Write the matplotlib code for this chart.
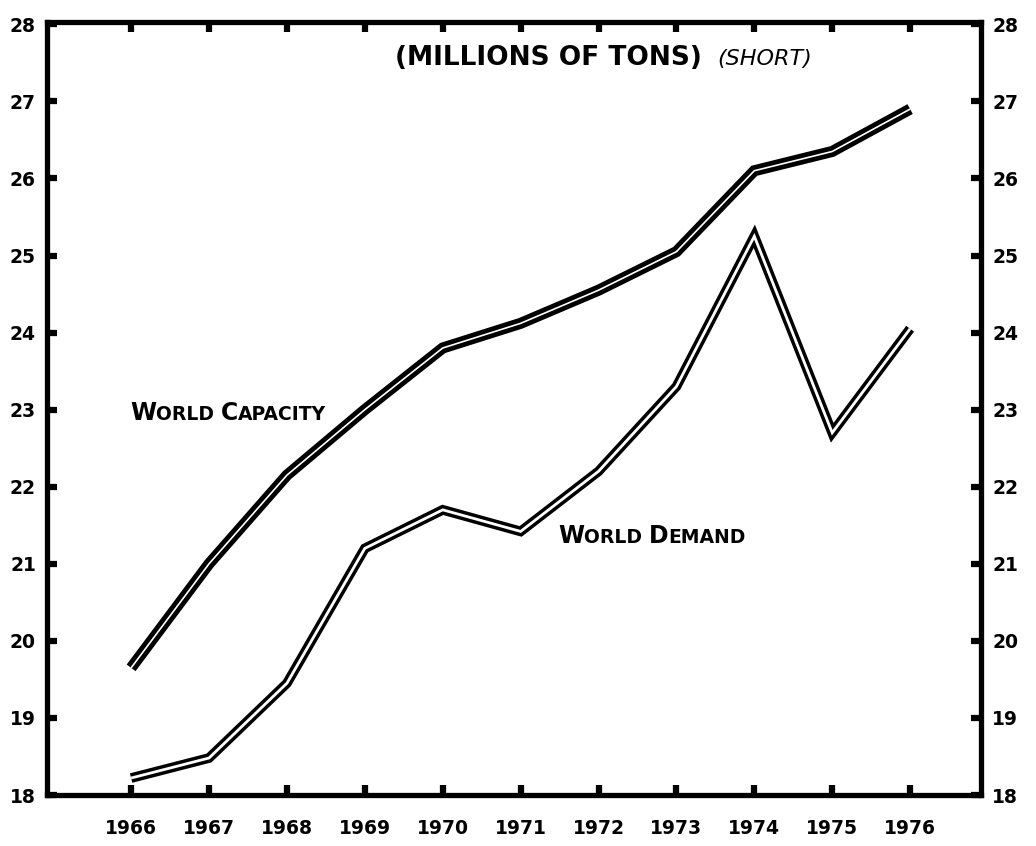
import matplotlib
matplotlib.use("Agg")
import matplotlib.pyplot as plt
from matplotlib.offsetbox import TextArea, HPacker, AnnotationBbox

# ---- data ----
years = [1966, 1967, 1968, 1969, 1970, 1971, 1972, 1973, 1974, 1975, 1976]
capacity = [19.65, 21.0, 22.15, 23.0, 23.8, 24.12, 24.55, 25.05, 26.1, 26.35, 26.9]
demand = [18.22, 18.48, 19.45, 21.2, 21.7, 21.42, 22.2, 23.3, 25.25, 22.7, 24.05]
y_ticks = [18, 19, 20, 21, 22, 23, 24, 25, 26, 27, 28]
y_tick_labels = ["18", "19", "20", "21", "22", "23", "24", "25", "26", "27", "28"]
x_tick_labels = [str(y) for y in years]

W, H = 1036, 846
fig = plt.figure(figsize=(W / 100, H / 100), dpi=100)
fig.patch.set_facecolor("white")

left_px, right_px, top_px, bottom_px = 47, 981, 22, 795
ax = fig.add_axes([left_px / W, 1 - bottom_px / H,
                   (right_px - left_px) / W, (bottom_px - top_px) / H])
ax.set_xlim(1964.92, 1976.91)
ax.set_ylim(18.0, 28.03)

# double (outline) lines
def outline(x, y, outer, inner):
    ax.plot(x, y, color="black", lw=outer, solid_joinstyle="miter",
            solid_capstyle="butt", zorder=3)
    ax.plot(x, y, color="white", lw=inner, solid_joinstyle="miter",
            solid_capstyle="butt", zorder=4)

outline(years, capacity, 8.0, 1.2)
outline(years, demand, 7.0, 2.0)

# frame
for s in ax.spines.values():
    s.set_linewidth(3.8)
    s.set_color("black")

lab_font = dict(family="DejaVu Sans", weight="bold", size=13.5)
ax.set_xticks(years)
ax.set_xticklabels(x_tick_labels, **lab_font)
ax.set_yticks(y_ticks)
ax.set_yticklabels(y_tick_labels, **lab_font)
ax.tick_params(axis="both", which="major", direction="in", length=7, width=4.5,
               color="black", top=True, right=True, labelright=True)
ax.tick_params(axis="y", which="major", pad=8)
ax.tick_params(axis="x", which="major", pad=17)

# small caps labels
def small_caps(parts, xy):
    kids = []
    for txt, big in parts:
        kids.append(TextArea(txt, textprops=dict(family="DejaVu Sans", weight="bold",
                                                 size=17 if big else 13.5, color="black")))
    pack = HPacker(children=kids, align="baseline", pad=0, sep=0)
    ab = AnnotationBbox(pack, xy, xycoords="data", frameon=False,
                        box_alignment=(0, 0), pad=0, zorder=5)
    ax.add_artist(ab)

small_caps([("W", True), ("ORLD ", False), ("C", True), ("APACITY", False)], (1965.99, 22.8))
small_caps([("W", True), ("ORLD ", False), ("D", True), ("EMAND", False)], (1971.48, 21.2))

ax.text(1969.39, 27.47, "(MILLIONS OF TONS)", family="DejaVu Sans", weight="bold",
        size=19, ha="left", va="baseline", color="black")
ax.text(1973.52, 27.47, "(SHORT)", family="DejaVu Sans", style="italic",
        size=16, ha="left", va="baseline", color="black")

fig.savefig("out.png", dpi=100, facecolor="white")
